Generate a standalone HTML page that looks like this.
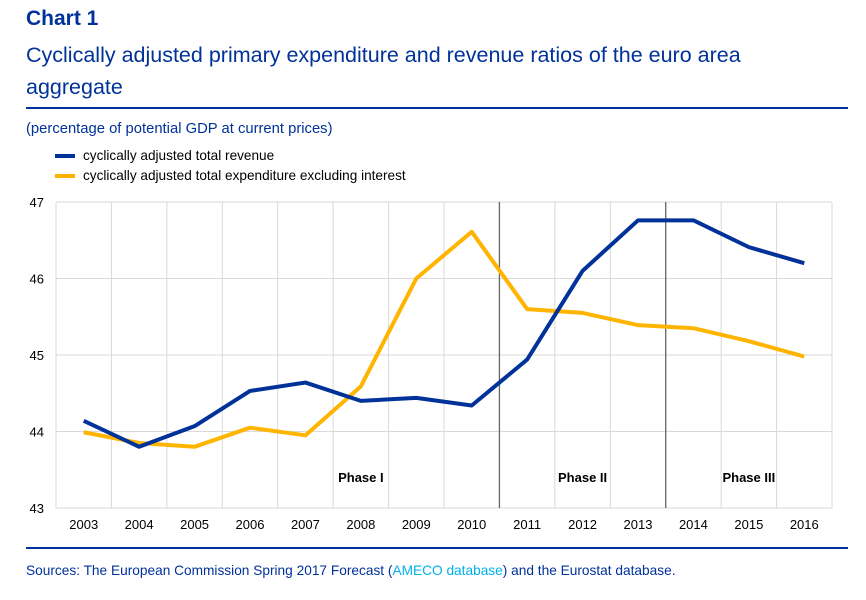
<!DOCTYPE html>
<html><head><meta charset="utf-8"><style>
body{margin:0;background:#fff;width:866px;height:600px;overflow:hidden;font-family:"Liberation Sans",Arial,sans-serif;position:relative}
.a{position:absolute;white-space:nowrap}
</style></head><body>
<div class="a" style="left:26px;top:7px;font-size:21px;font-weight:bold;color:#003299">Chart 1</div>
<div class="a" style="left:26px;top:39px;font-size:21.5px;line-height:32px;color:#003299;white-space:normal;width:770px">Cyclically adjusted primary expenditure and revenue ratios of the euro area aggregate</div>
<div class="a" style="left:26px;top:107px;width:822px;height:2px;background:#003299"></div>
<div class="a" style="left:26px;top:121px;font-size:14.8px;color:#003299">(percentage of potential GDP at current prices)</div>
<div class="a" style="left:55px;top:148px;font-size:13.6px;color:#000"><span style="display:inline-block;width:20px;height:4px;background:#003299;vertical-align:middle;margin-right:8px"></span>cyclically adjusted total revenue</div>
<div class="a" style="left:55px;top:168px;font-size:13.6px;color:#000"><span style="display:inline-block;width:20px;height:4px;background:#ffb400;vertical-align:middle;margin-right:8px"></span>cyclically adjusted total expenditure excluding interest</div>
<svg id="chart" class="a" style="left:0;top:0" width="866" height="600"></svg>
<div class="a" style="left:26px;top:547px;width:822px;height:2px;background:#003299"></div>
<div class="a" style="left:26px;top:563px;font-size:13.7px;color:#003299">Sources: The European Commission Spring 2017 Forecast (<span style="color:#00b1ea">AMECO database</span>) and the Eurostat database.</div>
<script>
const years=["2003","2004","2005","2006","2007","2008","2009","2010","2011","2012","2013","2014","2015","2016"];
const revenue=[44.14,43.80,44.07,44.53,44.64,44.40,44.44,44.34,44.94,46.10,46.76,46.76,46.41,46.20];
const expenditure=[43.99,43.85,43.80,44.05,43.95,44.59,46.00,46.61,45.60,45.55,45.39,45.35,45.18,44.98];
const yTicks=[43,44,45,46,47];
const phases=["Phase I","Phase II","Phase III"];
const phaseCenters=[5,9,12];
const phaseBoundaries=[8,11];
const NS="http://www.w3.org/2000/svg";
const svg=document.getElementById("chart");
const L=56,R=832,T=202,B=508,yMin=43,yMax=47;
const bw=(R-L)/years.length;
const xBand=i=>L+i*bw;
const xC=i=>L+(i+0.5)*bw;
const y=v=>B-(v-yMin)/(yMax-yMin)*(B-T);
function mk(tag,attrs,parent){const e=document.createElementNS(NS,tag);for(const k in attrs)e.setAttribute(k,attrs[k]);(parent||svg).appendChild(e);return e;}
yTicks.forEach(t=>{
  const g=mk("line",{x1:L,x2:R,y1:y(t),y2:y(t),stroke:"#d9d9d9","stroke-width":1});
  
  
  const tx=mk("text",{x:L-12,y:y(t)+5,"text-anchor":"end","font-size":13,fill:"#000"});
  tx.textContent=t;
  
  
});
for(let i=0;i<=years.length;i++){
  const g=mk("line",{x1:xBand(i),x2:xBand(i),y1:T,y2:B,stroke:"#d9d9d9","stroke-width":1});
  
  
}
years.forEach((yr,i)=>{
  const tx=mk("text",{x:xC(i),y:B+21,"text-anchor":"middle","font-size":13,fill:"#000"});
  tx.textContent=yr;
  
  
});
phaseBoundaries.forEach(b=>{
  const l=mk("line",{x1:xBand(b),x2:xBand(b),y1:T,y2:B,stroke:"#666","stroke-width":1.3});
  
  
});
phases.forEach((p,i)=>{
  const tx=mk("text",{x:xC(phaseCenters[i]),y:482,"text-anchor":"middle","font-size":13,"font-weight":"bold",fill:"#000"});
  tx.textContent=p;
  
  
});
function line(vals,color,name){
  const p=mk("polyline",{points:vals.map((v,i)=>xC(i)+","+y(v)).join(" "),fill:"none",stroke:color,"stroke-width":4,"stroke-linejoin":"round"});
  
  
}
line(expenditure,"#ffb400","expenditure-line");
line(revenue,"#003299","revenue-line");
</script>
</body></html>
